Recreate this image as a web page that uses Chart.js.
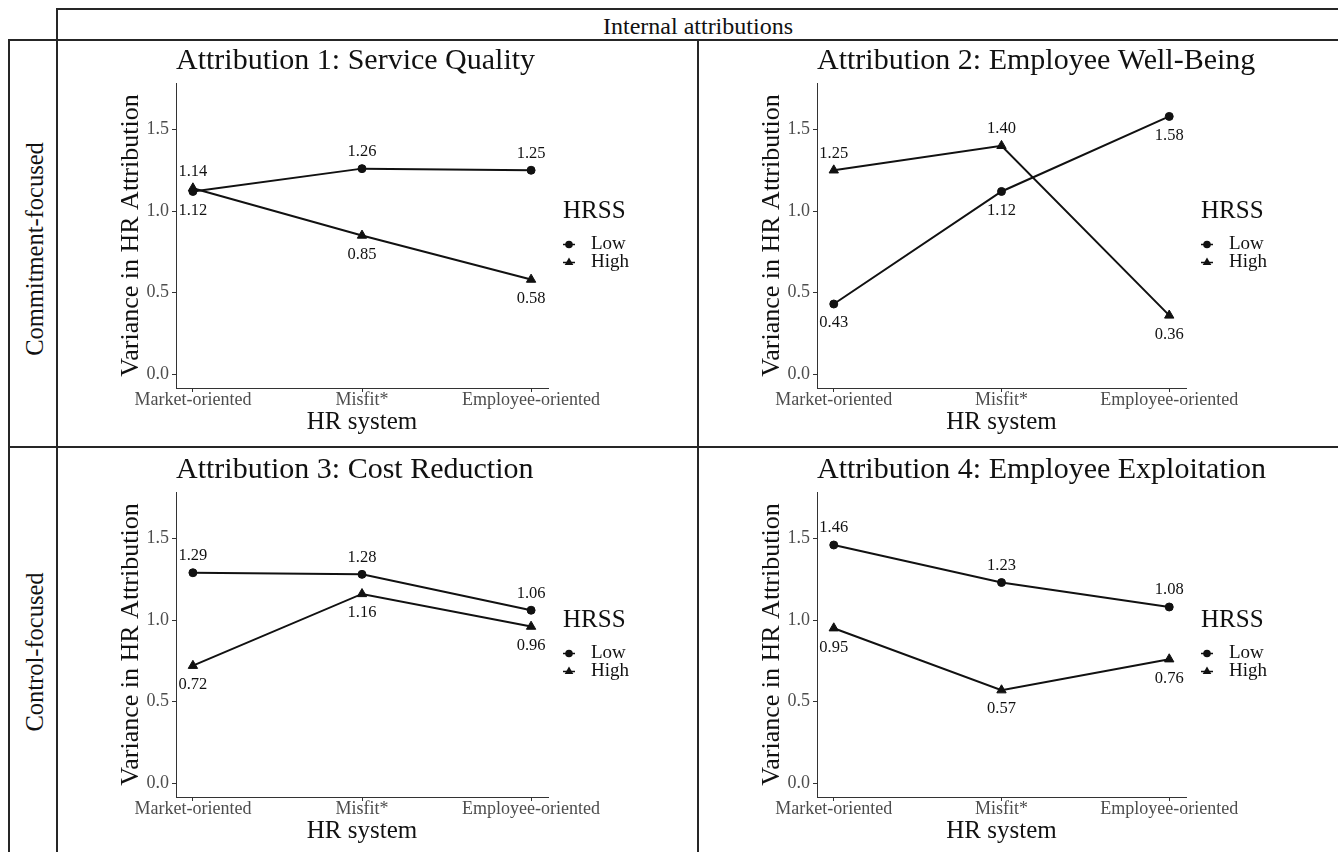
<!DOCTYPE html>
<html>
<head>
<meta charset="utf-8">
<title>Internal attributions – HR system by HRSS</title>
<script src="https://cdn.jsdelivr.net/npm/chart.js@4.4.1/dist/chart.umd.min.js"></script>
<style>
  html, body { margin: 0; padding: 0; background: #fff; }
  body {
    width: 1338px; height: 852px; position: relative; overflow: hidden;
    font-family: "Liberation Serif", "Times New Roman", serif; color: #111;
  }
  .rule { position: absolute; background: #262626; }
  .hrule { height: 2px; }
  .vrule { width: 2px; }
  .head {
    position: absolute; left: 548px; top: 14px; width: 300px;
    font-size: 24px; line-height: 24px; text-align: center; white-space: nowrap;
  }
  .rowlab {
    position: absolute; width: 300px; height: 30px; line-height: 30px;
    font-size: 24.5px; text-align: center; white-space: nowrap;
    transform: rotate(-90deg);
  }
  canvas { position: absolute; }
</style>
</head>
<body>

<!-- table rules -->
<div class="rule hrule" style="left:56px; top:8px; width:1282px;"></div>
<div class="rule hrule" style="left:8px; top:39px; width:1330px;"></div>
<div class="rule hrule" style="left:8px; top:446px; width:1330px;"></div>
<div class="rule vrule" style="left:8px; top:39px; height:813px;"></div>
<div class="rule vrule" style="left:56px; top:8px; height:844px;"></div>
<div class="rule vrule" style="left:697px; top:39px; height:813px;"></div>

<div class="head">Internal attributions</div>
<div class="rowlab" style="left:-115px; top:234px;">Commitment-focused</div>
<div class="rowlab" style="left:-115px; top:637px;">Control-focused</div>

<canvas id="p1" width="638" height="405" style="left:59px; top:41px;"></canvas>
<canvas id="p2" width="638" height="405" style="left:700px; top:41px;"></canvas>
<canvas id="p3" width="638" height="404" style="left:59px; top:448px;"></canvas>
<canvas id="p4" width="638" height="404" style="left:700px; top:448px;"></canvas>

<script>
// ---- data ----
const categories = ['Market-oriented', 'Misfit*', 'Employee-oriented'];
const seriesNames = ['Low', 'High'];
const legendTitle = 'HRSS';
const yTicks = [0.0, 0.5, 1.0, 1.5];
const yAxisTitle = 'Variance in HR Attribution';
const xAxisTitle = 'HR system';

const titles = [
  'Attribution 1: Service Quality',
  'Attribution 2: Employee Well-Being',
  'Attribution 3: Cost Reduction',
  'Attribution 4: Employee Exploitation'
];

const serviceQualityLow   = [1.12, 1.26, 1.25];
const serviceQualityHigh  = [1.14, 0.85, 0.58];
const wellBeingLow        = [0.43, 1.12, 1.58];
const wellBeingHigh       = [1.25, 1.40, 0.36];
const costReductionLow    = [1.29, 1.28, 1.06];
const costReductionHigh   = [0.72, 1.16, 0.96];
const exploitationLow     = [1.46, 1.23, 1.08];
const exploitationHigh    = [0.95, 0.57, 0.76];

// which side of each point its value label sits on (true = above)
const sqLowAbove  = [false, true, true],  sqHighAbove  = [true, false, false];
const wbLowAbove  = [false, false, false], wbHighAbove = [true, true, false];
const crLowAbove  = [true, true, true],   crHighAbove  = [false, false, false];
const exLowAbove  = [true, true, true],   exHighAbove  = [false, false, false];

// ---- layout (page pixels) ----
const FONT = '"Liberation Serif", "Times New Roman", serif';
const panels = [
  { id: 'p1', title: titles[0], low: serviceQualityLow, high: serviceQualityHigh,
    lowAbove: sqLowAbove, highAbove: sqHighAbove,
    box: [59, 41, 638, 405], plot: [176, 83, 548, 388] },
  { id: 'p2', title: titles[1], low: wellBeingLow, high: wellBeingHigh,
    lowAbove: wbLowAbove, highAbove: wbHighAbove,
    box: [700, 41, 638, 405], plot: [817, 83, 1186, 388] },
  { id: 'p3', title: titles[2], low: costReductionLow, high: costReductionHigh,
    lowAbove: crLowAbove, highAbove: crHighAbove,
    box: [59, 448, 638, 404], plot: [176, 492, 548, 797] },
  { id: 'p4', title: titles[3], low: exploitationLow, high: exploitationHigh,
    lowAbove: exLowAbove, highAbove: exHighAbove,
    box: [700, 448, 638, 404], plot: [817, 492, 1186, 797] }
];

const X_AXIS_H = 50;

function markerPath(ctx, style, r, x, y) {
  ctx.beginPath();
  if (style === 'triangle') {
    let a = 0;
    ctx.moveTo(x + Math.sin(a) * r, y - Math.cos(a) * r);
    a += 2 * Math.PI / 3;
    ctx.lineTo(x + Math.sin(a) * r, y - Math.cos(a) * r);
    a += 2 * Math.PI / 3;
    ctx.lineTo(x + Math.sin(a) * r, y - Math.cos(a) * r);
    ctx.closePath();
  } else {
    ctx.arc(x, y, r, 0, Math.PI * 2);
  }
}

// value labels next to every point
const valueLabels = {
  id: 'valueLabels',
  afterDatasetsDraw(chart) {
    const ctx = chart.ctx;
    ctx.save();
    ctx.font = '16.5px ' + FONT;
    ctx.fillStyle = '#111';
    ctx.textAlign = 'center';
    ctx.textBaseline = 'middle';
    chart.data.datasets.forEach((ds, di) => {
      const meta = chart.getDatasetMeta(di);
      meta.data.forEach((pt, i) => {
        const above = ds.labelAbove[i];
        ctx.fillText(ds.data[i].y.toFixed(2), pt.x, pt.y + (above ? -17 : 19));
      });
    });
    ctx.restore();
  }
};

// panel title (left-aligned with the plot) and the HRSS key
function decor(title) {
  return {
    id: 'decor',
    afterDraw(chart) {
      const { ctx, chartArea: a } = chart;
      ctx.save();
      ctx.fillStyle = '#111';
      ctx.textBaseline = 'middle';
      ctx.textAlign = 'left';
      ctx.font = '30px ' + FONT;
      ctx.fillText(title, a.left, a.top - 22);

      const mid = (a.top + a.bottom) / 2;
      ctx.font = '25px ' + FONT;
      ctx.fillText(legendTitle, a.right + 15, mid - 24);
      ctx.font = '19px ' + FONT;
      chart.data.datasets.forEach((ds, i) => {
        const y = mid + 9 + i * 18;
        const kx = a.right + 21;
        ctx.strokeStyle = ds.borderColor;
        ctx.lineWidth = 1.5;
        ctx.beginPath();
        ctx.moveTo(kx - 6, y);
        ctx.lineTo(kx + 6, y);
        ctx.stroke();
        markerPath(ctx, ds.pointStyle, ds.pointStyle === 'triangle' ? 5 : 3.8, kx, y);
        ctx.fillStyle = ds.pointBackgroundColor;
        ctx.fill();
        ctx.fillStyle = '#111';
        ctx.fillText(ds.label, a.right + 43, y);
      });
      ctx.restore();
    }
  };
}

function build(p) {
  const [bx, by, bw, bh] = p.box;
  const [pl, pt, pr, pb] = p.plot;
  const yAxisW = pl - bx;
  const pad = {
    left: 0,
    top: pt - by,
    right: bx + bw - pr,
    bottom: by + bh - (pb + X_AXIS_H)
  };
  const yTitleCenter = pl - 45 - bx;

  const mk = (vals) => vals.map((v, i) => ({ x: i, y: v }));

  new Chart(document.getElementById(p.id), {
    type: 'line',
    data: {
      datasets: [
        {
          label: seriesNames[0], data: mk(p.low), labelAbove: p.lowAbove,
          borderColor: '#111', backgroundColor: '#111', borderWidth: 2,
          pointStyle: 'circle', pointRadius: 4, pointBorderWidth: 1,
          pointBackgroundColor: '#111', pointBorderColor: '#111',
          tension: 0, order: 1
        },
        {
          label: seriesNames[1], data: mk(p.high), labelAbove: p.highAbove,
          borderColor: '#111', backgroundColor: '#111', borderWidth: 2,
          pointStyle: 'triangle', pointRadius: 5.4, pointBorderWidth: 1,
          pointBackgroundColor: '#111', pointBorderColor: '#111',
          tension: 0, order: 0
        }
      ]
    },
    options: {
      responsive: false,
      animation: false,
      devicePixelRatio: 1,
      layout: { padding: pad },
      plugins: {
        legend: { display: false },
        tooltip: { enabled: false },
        title: { display: false }
      },
      scales: {
        x: {
          type: 'linear',
          min: -0.1, max: 2.1,
          afterBuildTicks: (s) => { s.ticks = categories.map((_, i) => ({ value: i })); },
          afterFit: (s) => { s.height = X_AXIS_H; },
          ticks: {
            autoSkip: false, maxRotation: 0, padding: -1,
            color: '#4d4d4d',
            font: { family: FONT, size: 18, lineHeight: 1 },
            callback: (v) => categories[v]
          },
          grid: { drawOnChartArea: false, drawTicks: true, tickLength: 4, color: '#333', lineWidth: 1 },
          border: { display: true, color: '#333', width: 1 },
          title: {
            display: true, text: xAxisTitle, color: '#111',
            font: { family: FONT, size: 25, lineHeight: 1.2 },
            padding: { top: 0, bottom: 1 }
          }
        },
        y: {
          type: 'linear',
          min: -0.085, max: 1.785,
          afterBuildTicks: (s) => { s.ticks = yTicks.map(v => ({ value: v })); },
          afterFit: (s) => { s.width = yAxisW; },
          ticks: {
            padding: 3, color: '#4d4d4d',
            font: { family: FONT, size: 18 },
            callback: (v) => Number(v).toFixed(1)
          },
          grid: { drawOnChartArea: false, drawTicks: true, tickLength: 4, color: '#333', lineWidth: 1 },
          border: { display: true, color: '#333', width: 1 },
          title: {
            display: true, text: yAxisTitle, color: '#111',
            font: { family: FONT, size: 26, lineHeight: 1.2 },
            padding: { top: yTitleCenter - 15.6, bottom: 0 }
          }
        }
      }
    },
    plugins: [valueLabels, decor(p.title)]
  });
}

panels.forEach(build);
</script>
</body>
</html>
